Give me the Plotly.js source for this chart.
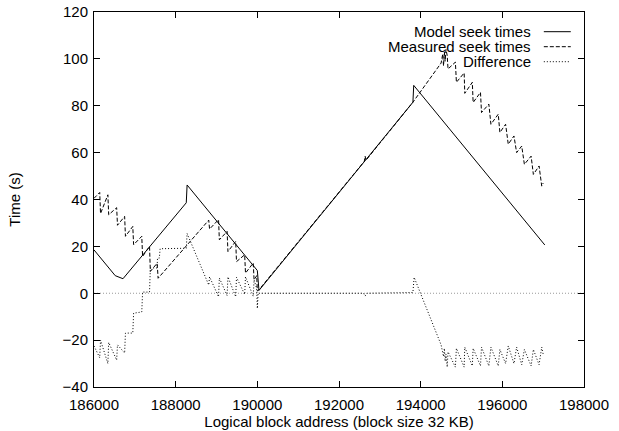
<!DOCTYPE html>
<html>
<head>
<meta charset="utf-8">
<script src="https://cdn.plot.ly/plotly-3.0.1.min.js"></script>
<style>html,body{margin:0;padding:0;background:#fff;}#chart{width:619px;height:431px;}</style>
</head>
<body>
<div id="chart"></div>
<script>
// Model seek times (solid)
const modelX = [186000, 186520, 186710, 188260, 188280, 190000, 190040, 193810, 193830, 197040];
const modelY = [18.5, 7.5, 6.2, 38.6, 46.2, 9.7, 1.2, 81.5, 88.7, 20.6];

// Measured seek times (dashed)
const measX = [186000, 186140, 186160, 186340, 186360, 186555, 186575, 186750, 186770, 186950, 186970,
  187170, 187190, 187360, 187380, 187545, 187555, 187570, 188810, 188830, 189050, 189070, 189260, 189280,
  189470, 189490, 189690, 189710, 189900, 189920, 189985, 190000, 190040, 192620, 192640, 192660, 193810,
  194500, 194540, 194560, 194580, 194600, 194620, 194650, 194670, 194850, 194875, 195065, 195080, 195265,
  195285, 195465, 195490, 195670, 195720, 195900, 195940, 196080, 196145, 196285, 196350, 196475, 196540,
  196705, 196760, 196900, 196965, 197000];
const measY = [40.5, 43, 34, 42, 33.5, 36.5, 29, 32.8, 24.3, 28.5, 20.7,
  24.3, 15.7, 20, 9.3, 12.8, 10.5, 6.4, 31.2, 27.4, 31.4, 22.8, 26.4, 17.8,
  22.1, 13.5, 16.4, 8.6, 12.9, 5.7, 7.5, 1, 1.5, 56.3, 58.5, 56.7, 81.5,
  98.2, 102, 97, 103, 99, 104, 101.4, 95.7, 98.6, 90, 94, 85.3, 90,
  81.4, 85.7, 77.1, 80.7, 72.1, 76.4, 68.6, 72.1, 63.6, 67.1, 60, 62.8, 55,
  58.5, 50.7, 54.3, 45.7, 47];

// Difference (dotted)
const diffX = [186000, 186140, 186160, 186340, 186360, 186555, 186575, 186750, 186770, 186950, 186970,
  187170, 187190, 187360, 187380, 187545, 187555, 187600, 187620, 188260, 188280, 188810, 188830, 189050,
  189070, 189260, 189280, 189470, 189490, 189690, 189710, 189900, 189920, 189985, 190000, 190020, 190040,
  192600, 192640, 192680, 193810, 193840, 194500, 194540, 194560, 194580, 194600, 194620, 194650, 194670,
  194850, 194875, 195065, 195080, 195265, 195285, 195465, 195490, 195670, 195720, 195900, 195940, 196080,
  196145, 196285, 196350, 196475, 196540, 196705, 196760, 196900, 196965, 197000];
const diffY = [-22.5, -27.5, -20, -30, -21, -28.5, -22, -25.5, -17, -17, -8.5,
  -8, 0.5, 0.5, 10.8, 10.8, 15, 15, 19, 19.2, 25.5, 3.5, 7, -1.5,
  6.5, -1, 7, -1.5, 6.8, -0.5, 7, -1.3, 5.7, 2, -6.5, 0.2, 0,
  0, -1.2, 0, 0.3, 6.8, -22, -25, -27, -23.5, -29, -26, -31.5, -25,
  -31.5, -23.5, -31.5, -23, -31, -23.5, -31, -23, -31, -23, -31, -24, -30,
  -22.5, -30, -23, -30.5, -24, -31, -24, -30.5, -23, -26];

const seriesNames = ['Model seek times', 'Measured seek times', 'Difference'];
const seriesDash = ['solid', '4px,2px', '1px,2px'];

const FONT = 'Liberation Sans, Arial, Helvetica, sans-serif';

const traces = [
  {x: modelX, y: modelY, mode: 'lines', line: {color: '#000', width: 1, dash: seriesDash[0]}, name: seriesNames[0], showlegend: false},
  {x: measX, y: measY, mode: 'lines', line: {color: '#000', width: 1, dash: seriesDash[1]}, name: seriesNames[1], showlegend: false},
  {x: diffX, y: diffY, mode: 'lines', line: {color: '#000', width: 1, dash: seriesDash[2]}, name: seriesNames[2], showlegend: false}
];

// manual gnuplot-style key (text right, sample line at right)
const keyTextX = 0.896, keyL0 = 0.918, keyL1 = 0.973;
const keyY = [0.9475, 0.9075, 0.8675];
const annotations = seriesNames.map((n, i) => ({
  xref: 'paper', yref: 'paper', x: keyTextX, y: keyY[i], text: n, showarrow: false,
  xanchor: 'right', yanchor: 'middle', font: {family: FONT, size: 15, color: '#000'}
}));
const shapes = seriesNames.map((n, i) => ({
  type: 'line', xref: 'paper', yref: 'paper', x0: keyL0, x1: keyL1, y0: keyY[i], y1: keyY[i],
  line: {color: '#000', width: 1, dash: seriesDash[i]}
}));
// zero axis (dotted grey)
shapes.unshift({type: 'line', xref: 'paper', yref: 'y', x0: 0, x1: 1, y0: 0, y1: 0,
  line: {color: '#999', width: 1, dash: '1px,2px'}, layer: 'below'});

const layout = {
  width: 619, height: 431,
  margin: {l: 94, r: 35, t: 12, b: 44, pad: 0},
  paper_bgcolor: '#fff', plot_bgcolor: '#fff',
  font: {family: FONT, size: 15, color: '#000'},
  showlegend: false,
  xaxis: {
    range: [186000, 198000], tick0: 186000, dtick: 2000, tickformat: 'd',
    ticks: 'inside', ticklen: 6, tickcolor: '#000', tickwidth: 1,
    showline: true, linecolor: '#000', linewidth: 1, mirror: 'ticks',
    showgrid: false, zeroline: false, ticklabelstandoff: 4,
    tickfont: {family: FONT, size: 15, color: '#000'},
    title: {text: 'Logical block address (block size 32 KB)', font: {family: FONT, size: 15, color: '#000'}, standoff: 0}
  },
  yaxis: {
    range: [-40, 120], tick0: -40, dtick: 20,
    ticks: 'inside', ticklen: 6, tickcolor: '#000', tickwidth: 1,
    showline: true, linecolor: '#000', linewidth: 1, mirror: 'ticks',
    showgrid: false, zeroline: false, ticklabelstandoff: 2,
    tickfont: {family: FONT, size: 15, color: '#000'},
    title: {text: 'Time (s)', font: {family: FONT, size: 15, color: '#000'}, standoff: 38}
  },
  annotations: annotations,
  shapes: shapes
};

Plotly.newPlot('chart', traces, layout, {staticPlot: true, displayModeBar: false});
</script>
</body>
</html>
